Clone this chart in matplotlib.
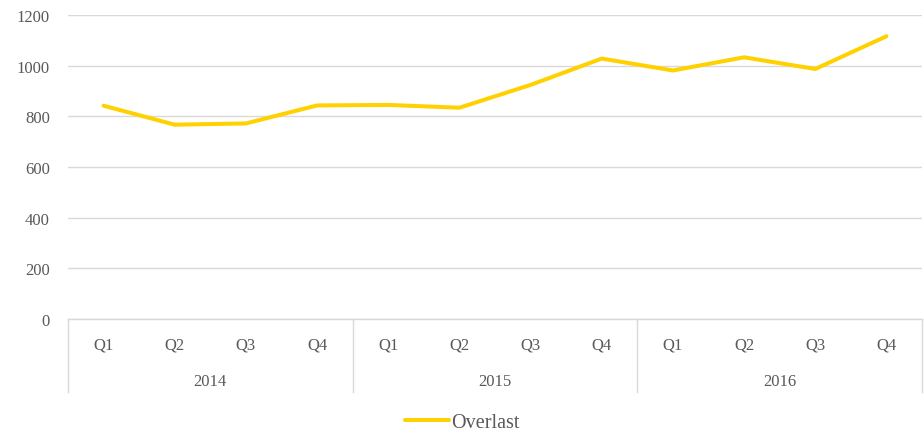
import matplotlib.pyplot as plt
import matplotlib.transforms as mtransforms

# Data
years = ['2014', '2015', '2016']
quarters = ['Q1', 'Q2', 'Q3', 'Q4']
overlast = [842, 767, 772, 843, 845, 834, 924, 1028, 981, 1033, 987, 1116]

grey = '#595959'
grid_col = '#D9D9D9'
line_col = '#FFD100'

plt.rcParams['font.family'] = ['Liberation Serif', 'DejaVu Serif']
plt.rcParams['font.size'] = 12

W, H = 924, 431
fig = plt.figure(figsize=(W / 100, H / 100), dpi=100)
left, right, top, bottom = 68, 922, 16, 320
ax = fig.add_axes([left / W, 1 - bottom / H, (right - left) / W, (bottom - top) / H])

n = len(overlast)
x = list(range(n))
ax.plot(x, overlast, color=line_col, lw=2.9, solid_capstyle='round', label='Overlast')

ax.set_xlim(-0.5, n - 0.5)
ax.set_ylim(0, 1200)
ax.set_yticks(range(0, 1201, 200))
ax.tick_params(axis='y', length=0, pad=13, labelcolor=grey, labelsize=12)
ax.set_xticks([])
ax.yaxis.grid(True, color=grid_col, lw=1)
ax.set_axisbelow(True)
for s in ['left', 'right', 'top']:
    ax.spines[s].set_visible(False)
ax.spines['bottom'].set_color(grid_col)
ax.spines['bottom'].set_linewidth(1)

# Multi-level category axis
trans = mtransforms.blended_transform_factory(ax.transData, ax.transAxes)
ph = bottom - top
q_y = -(346 - bottom) / ph
yr_y = -(382 - bottom) / ph
sep_y = -(393 - bottom) / ph
for i in range(n):
    ax.text(i, q_y, quarters[i % 4], transform=trans, ha='center', va='center',
            color=grey, fontsize=12)
for j, yr in enumerate(years):
    ax.text(j * 4 + 1.5, yr_y, yr, transform=trans, ha='center', va='center',
            color=grey, fontsize=12)
for k in range(len(years) + 1):
    ax.plot([k * 4 - 0.5, k * 4 - 0.5], [0, sep_y], transform=trans, color=grid_col,
            lw=1, clip_on=False)

leg = fig.legend(loc='center', bbox_to_anchor=(0.5, 1 - 423 / H), frameon=False,
                 handlelength=2.2, handletextpad=0.1, fontsize=14.5)
for t in leg.get_texts():
    t.set_color(grey)

fig.savefig('out.png', dpi=100)
